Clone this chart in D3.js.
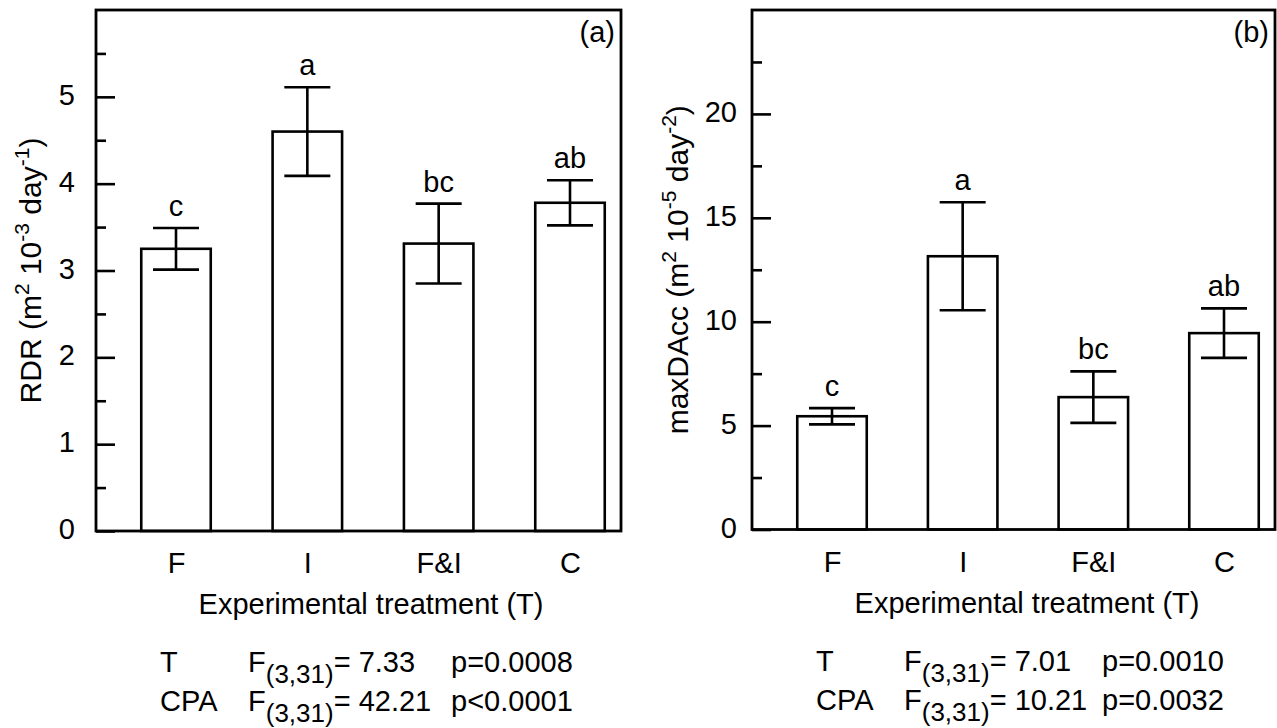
<!DOCTYPE html>
<html>
<head>
<meta charset="utf-8">
<script src="https://cdn.jsdelivr.net/npm/d3@7/dist/d3.min.js"></script>
<style>
  html, body { margin: 0; padding: 0; background: #fff; }
  svg { display: block; }
  text { font-family: "Liberation Sans", Arial, Helvetica, sans-serif; fill: #000; }
</style>
</head>
<body>
<svg id="chart" width="1277" height="728"></svg>
<script>
// ---------- data ----------
const categories = ["F", "I", "F&I", "C"];

const rdrMean = [3.25, 4.60, 3.31, 3.78];
const rdrErr = [0.24, 0.51, 0.46, 0.26];
const rdrLetters = ["c", "a", "bc", "ab"];
const rdrMajorTicks = [0, 1, 2, 3, 4, 5];
const rdrMinorTicks = [0.5, 1.5, 2.5, 3.5, 4.5, 5.5];

const accMean = [5.45, 13.15, 6.37, 9.45];
const accErr = [0.39, 2.60, 1.24, 1.19];
const accLetters = ["c", "a", "bc", "ab"];
const accMajorTicks = [0, 5, 10, 15, 20];
const accMinorTicks = [2.5, 7.5, 12.5, 17.5, 22.5];

const statsA = [
  { term: "T", F: "7.33", p: "p=0.0008" },
  { term: "CPA", F: "42.21", p: "p<0.0001" }
];
const statsB = [
  { term: "T", F: "7.01", p: "p=0.0010" },
  { term: "CPA", F: "10.21", p: "p=0.0032" }
];

const xTitle = "Experimental treatment (T)";

// ---------- drawing ----------
const svg = d3.select("#chart");
const FS = 29;

function panel(cfg) {
  const { left, right, top, bottom, yMax, means, errs, letters, major, minor,
          tag, yLabelParts, yLabelX, tickGap, stats, pX } = cfg;
  const g = svg.append("g");

  const x = d3.scalePoint().domain(categories).range([left + 80, right - 51]);
  const y = d3.scaleLinear().domain([0, yMax]).range([bottom, top]);
  const barW = 69.5, capHalf = 23;

  // bars
  g.selectAll("rect.bar").data(categories).join("rect")
    .attr("class", "bar")
    .attr("x", d => x(d) - barW / 2)
    .attr("width", barW)
    .attr("y", (d, i) => y(means[i]))
    .attr("height", (d, i) => y(0) - y(means[i]))
    .attr("fill", "#fff").attr("stroke", "#000").attr("stroke-width", 2.6);

  // error bars
  const eb = g.selectAll("g.eb").data(categories).join("g").attr("class", "eb")
    .attr("stroke", "#000").attr("stroke-width", 2.6);
  eb.append("line")
    .attr("x1", d => x(d)).attr("x2", d => x(d))
    .attr("y1", (d, i) => y(means[i] - errs[i]))
    .attr("y2", (d, i) => y(means[i] + errs[i]));
  eb.append("line")
    .attr("x1", d => x(d) - capHalf).attr("x2", d => x(d) + capHalf)
    .attr("y1", (d, i) => y(means[i] + errs[i]))
    .attr("y2", (d, i) => y(means[i] + errs[i]));
  eb.append("line")
    .attr("x1", d => x(d) - capHalf).attr("x2", d => x(d) + capHalf)
    .attr("y1", (d, i) => y(means[i] - errs[i]))
    .attr("y2", (d, i) => y(means[i] - errs[i]));

  // significance letters
  g.selectAll("text.let").data(categories).join("text")
    .attr("class", "let")
    .attr("x", d => x(d))
    .attr("y", (d, i) => y(means[i] + errs[i]) - 12)
    .attr("text-anchor", "middle")
    .attr("font-size", FS)
    .text((d, i) => letters[i]);

  // y axis ticks (inward)
  const yAxisMajor = d3.axisRight(y).tickValues(major).tickSize(19).tickFormat("");
  const yAxisMinor = d3.axisRight(y).tickValues(minor).tickSize(10).tickFormat("");
  [yAxisMajor, yAxisMinor].forEach(ax => {
    const a = g.append("g").attr("transform", `translate(${left},0)`).call(ax);
    a.select(".domain").remove();
    a.selectAll("line").attr("stroke", "#000").attr("stroke-width", 2.6);
  });
  g.selectAll("text.ytl").data(major).join("text")
    .attr("class", "ytl")
    .attr("x", left - tickGap)
    .attr("y", d => y(d) + 8)
    .attr("text-anchor", "end")
    .attr("font-size", 29)
    .text(d => d);

  // x axis labels (no ticks)
  const xAxis = d3.axisBottom(x).tickSize(0).tickPadding(0);
  const xa = g.append("g").attr("transform", `translate(0,${bottom})`).call(xAxis);
  xa.select(".domain").remove();
  xa.selectAll("text")
    .attr("y", 42).attr("dy", null)
    .attr("font-size", FS)
    .attr("font-family", "'Liberation Sans', Arial, Helvetica, sans-serif")
    .attr("fill", "#000");

  // frame
  g.append("rect")
    .attr("x", left).attr("y", top)
    .attr("width", right - left).attr("height", bottom - top)
    .attr("fill", "none").attr("stroke", "#000").attr("stroke-width", 2.8);

  // panel tag
  g.append("text")
    .attr("x", right - 6).attr("y", top + 32)
    .attr("text-anchor", "end").attr("font-size", FS)
    .text(tag);

  // x title
  g.append("text")
    .attr("x", left + 275)
    .attr("y", bottom + 83)
    .attr("text-anchor", "middle").attr("font-size", FS)
    .text(xTitle);

  // y title
  const yt = g.append("text")
    .attr("transform", `translate(${yLabelX},${(top + bottom) / 2}) rotate(-90)`)
    .attr("text-anchor", "middle").attr("font-size", 30);
  yLabelParts.forEach(p => {
    if (p.sup) {
      yt.append("tspan").attr("font-size", 21).attr("dy", -12).text(p.t);
    } else {
      yt.append("tspan").attr("dy", p.after ? 12 : 0).text(p.t);
    }
  });

  // stats
  const rows = [bottom + 141, bottom + 180];
  stats.forEach((s, i) => {
    const yy = rows[i];
    g.append("text").attr("x", left + 64).attr("y", yy).attr("font-size", FS).text(s.term);
    const t = g.append("text").attr("x", left + 152).attr("y", yy).attr("font-size", FS);
    t.append("tspan").text("F");
    t.append("tspan").attr("font-size", 26).attr("dy", 11).text("(3,31)");
    t.append("tspan").attr("dy", -11).text("= " + s.F);
    g.append("text").attr("x", left + pX).attr("y", yy).attr("font-size", FS).text(s.p);
  });
}

panel({
  left: 96, right: 621, top: 10, bottom: 531, yMax: 6,
  means: rdrMean, errs: rdrErr, letters: rdrLetters,
  major: rdrMajorTicks, minor: rdrMinorTicks, tag: "(a)",
  yLabelX: 41, tickGap: 21, stats: statsA, pX: 355,
  yLabelParts: [
    { t: "RDR (m" }, { t: "2", sup: true }, { t: " 10", after: true },
    { t: "-3", sup: true }, { t: " day", after: true }, { t: "-1", sup: true },
    { t: ")", after: true }
  ]
});

panel({
  left: 752, right: 1275, top: 10, bottom: 529.5, yMax: 25,
  means: accMean, errs: accErr, letters: accLetters,
  major: accMajorTicks, minor: accMinorTicks, tag: "(b)",
  yLabelX: 688, tickGap: 15, stats: statsB, pX: 350,
  yLabelParts: [
    { t: "maxDAcc (m" }, { t: "2", sup: true }, { t: " 10", after: true },
    { t: "-5", sup: true }, { t: " day", after: true }, { t: "-2", sup: true },
    { t: ")", after: true }
  ]
});
</script>
</body>
</html>
